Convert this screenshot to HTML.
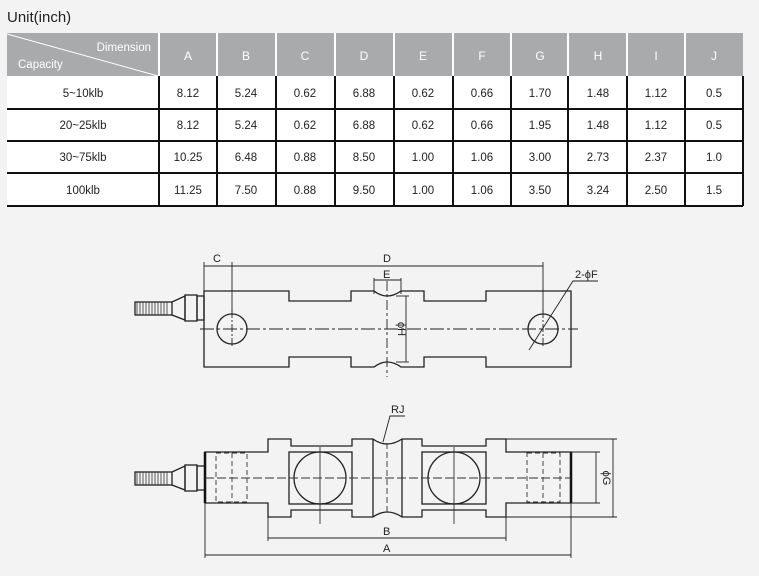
<!DOCTYPE html>
<html><head><style>
html,body{margin:0;padding:0;background:#f3f3f3;width:759px;height:576px;overflow:hidden}
svg{display:block}
text{font-family:"Liberation Sans",sans-serif}
</style></head><body>
<svg width="759" height="576" viewBox="0 0 759 576" xmlns="http://www.w3.org/2000/svg">
<text x="7" y="22" font-size="15" fill="#222">Unit(inch)</text>
<!-- table -->
<rect x="7" y="33" width="736" height="173" fill="#fff"/>
<rect x="7" y="33" width="736" height="43" fill="#a9aaac"/>
<g stroke="#fff" stroke-width="2">
<line x1="159" y1="33" x2="159" y2="76"/><line x1="217" y1="33" x2="217" y2="76"/><line x1="276" y1="33" x2="276" y2="76"/><line x1="335" y1="33" x2="335" y2="76"/><line x1="394" y1="33" x2="394" y2="76"/><line x1="453" y1="33" x2="453" y2="76"/><line x1="511" y1="33" x2="511" y2="76"/><line x1="568" y1="33" x2="568" y2="76"/><line x1="627" y1="33" x2="627" y2="76"/><line x1="685" y1="33" x2="685" y2="76"/>
</g>
<line x1="7" y1="34" x2="158" y2="76" stroke="#fff" stroke-width="1"/>
<text x="151" y="51" font-size="11.5" fill="#fff" text-anchor="end">Dimension</text>
<text x="18" y="68" font-size="11.5" fill="#fff">Capacity</text>
<g font-size="12" fill="#fff" text-anchor="middle">
<text x="188" y="60">A</text><text x="246" y="60">B</text><text x="305" y="60">C</text><text x="364" y="60">D</text><text x="423" y="60">E</text><text x="482" y="60">F</text><text x="540" y="60">G</text><text x="598" y="60">H</text><text x="656" y="60">I</text><text x="714" y="60">J</text>
</g>
<g stroke="#111" stroke-width="2">
<line x1="7" y1="109" x2="743" y2="109"/><line x1="7" y1="141" x2="743" y2="141"/><line x1="7" y1="173" x2="743" y2="173"/><line x1="7" y1="206" x2="743" y2="206"/>
<line x1="159" y1="76" x2="159" y2="206"/><line x1="217" y1="76" x2="217" y2="206"/><line x1="276" y1="76" x2="276" y2="206"/><line x1="335" y1="76" x2="335" y2="206"/><line x1="394" y1="76" x2="394" y2="206"/><line x1="453" y1="76" x2="453" y2="206"/><line x1="511" y1="76" x2="511" y2="206"/><line x1="568" y1="76" x2="568" y2="206"/><line x1="627" y1="76" x2="627" y2="206"/><line x1="685" y1="76" x2="685" y2="206"/><line x1="743" y1="76" x2="743" y2="206"/>
</g>
<g font-size="11.5" fill="#222" text-anchor="middle">
<text x="83" y="97">5~10klb</text><text x="188" y="97">8.12</text><text x="246" y="97">5.24</text><text x="305" y="97">0.62</text><text x="364" y="97">6.88</text><text x="423" y="97">0.62</text><text x="482" y="97">0.66</text><text x="540" y="97">1.70</text><text x="598" y="97">1.48</text><text x="656" y="97">1.12</text><text x="714" y="97">0.5</text>
<text x="83" y="129">20~25klb</text><text x="188" y="129">8.12</text><text x="246" y="129">5.24</text><text x="305" y="129">0.62</text><text x="364" y="129">6.88</text><text x="423" y="129">0.62</text><text x="482" y="129">0.66</text><text x="540" y="129">1.95</text><text x="598" y="129">1.48</text><text x="656" y="129">1.12</text><text x="714" y="129">0.5</text>
<text x="83" y="161">30~75klb</text><text x="188" y="161">10.25</text><text x="246" y="161">6.48</text><text x="305" y="161">0.88</text><text x="364" y="161">8.50</text><text x="423" y="161">1.00</text><text x="482" y="161">1.06</text><text x="540" y="161">3.00</text><text x="598" y="161">2.73</text><text x="656" y="161">2.37</text><text x="714" y="161">1.0</text>
<text x="83" y="194">100klb</text><text x="188" y="194">11.25</text><text x="246" y="194">7.50</text><text x="305" y="194">0.88</text><text x="364" y="194">9.50</text><text x="423" y="194">1.00</text><text x="482" y="194">1.06</text><text x="540" y="194">3.50</text><text x="598" y="194">3.24</text><text x="656" y="194">2.50</text><text x="714" y="194">1.5</text>
</g>

<!-- TOP VIEW -->
<g fill="none" stroke="#222" stroke-width="1.3">
<path d="M204 291 H289 V301 H351 V291 H374 Q387 301 401 291 H424 V301 H486 V291 H571 V367 H486 V357 H424 V367 H401 Q387 357 374 367 H351 V357 H289 V367 H204 Z"/>
<circle cx="232" cy="329" r="15"/><circle cx="543" cy="329" r="15"/>
<rect x="135" y="302" width="37" height="13"/>
<path d="M172 302 L185 296 V320 L172 315"/>
<rect x="185" y="295" width="12" height="26"/><rect x="197" y="296" width="7" height="24"/>
</g>
<g stroke="#333" stroke-width="0.8">
<line x1="137" y1="302" x2="137" y2="315"/><line x1="140" y1="302" x2="140" y2="315"/><line x1="143" y1="302" x2="143" y2="315"/><line x1="146" y1="302" x2="146" y2="315"/><line x1="149" y1="302" x2="149" y2="315"/><line x1="152" y1="302" x2="152" y2="315"/><line x1="155" y1="302" x2="155" y2="315"/><line x1="158" y1="302" x2="158" y2="315"/><line x1="161" y1="302" x2="161" y2="315"/><line x1="164" y1="302" x2="164" y2="315"/><line x1="167" y1="302" x2="167" y2="315"/>
</g>
<g stroke="#222" stroke-width="0.9" fill="none">
<line x1="200" y1="329" x2="578" y2="329" stroke-dasharray="14,3,3,3"/>
<line x1="387" y1="281" x2="387" y2="377" stroke-dasharray="10,3,3,3"/>
<line x1="232" y1="310" x2="232" y2="348" stroke-dasharray="8,2,2,2"/>
<line x1="543" y1="310" x2="543" y2="348" stroke-dasharray="8,2,2,2"/>
<line x1="204" y1="262" x2="204" y2="291"/><line x1="232" y1="262" x2="232" y2="312"/>
<line x1="543" y1="262" x2="543" y2="312"/>
<line x1="204" y1="266" x2="543" y2="266"/>
<line x1="374" y1="278" x2="374" y2="294"/><line x1="401" y1="278" x2="401" y2="294"/>
<line x1="374" y1="280" x2="401" y2="280"/>
<line x1="406" y1="296" x2="406" y2="362"/>
<line x1="396" y1="296" x2="409" y2="296"/><line x1="396" y1="362" x2="409" y2="362"/>
<path d="M529 350 L573 281 H598"/>
</g>
<g font-size="11" fill="#222">
<text x="213" y="262">C</text><text x="383" y="262">D</text><text x="383" y="278">E</text><text x="575" y="278">2-ϕF</text>
<text transform="translate(398,329) rotate(90)" text-anchor="middle">ϕH</text>
</g>

<!-- BOTTOM VIEW -->
<g fill="none" stroke="#222" stroke-width="1.3">
<path d="M205 452 H268 V439 H291 V446 H352 V439 H373 Q387 449 402 439 H422 V446 H486 V439 H506 V452 H571 V503 H506 V517 H486 V510 H422 V517 H402 Q387 507 373 517 H352 V510 H291 V517 H268 V503 H205 Z"/>
<line x1="373" y1="439" x2="373" y2="517"/><line x1="402" y1="439" x2="402" y2="517"/>
<rect x="289" y="452" width="63" height="52"/><rect x="422" y="452" width="64" height="52"/>
<circle cx="320" cy="478" r="26"/><circle cx="454" cy="478" r="26"/>
<rect x="135" y="472" width="37" height="13"/>
<path d="M172 472 L185 466 V490 L172 485"/>
<rect x="185" y="465" width="12" height="26"/><rect x="197" y="466" width="8" height="24"/>
</g>
<line x1="205" y1="452" x2="205" y2="503" stroke="#111" stroke-width="2.5"/>
<line x1="571" y1="452" x2="571" y2="503" stroke="#111" stroke-width="2.5"/>
<g stroke="#333" stroke-width="0.8">
<line x1="137" y1="472" x2="137" y2="485"/><line x1="140" y1="472" x2="140" y2="485"/><line x1="143" y1="472" x2="143" y2="485"/><line x1="146" y1="472" x2="146" y2="485"/><line x1="149" y1="472" x2="149" y2="485"/><line x1="152" y1="472" x2="152" y2="485"/><line x1="155" y1="472" x2="155" y2="485"/><line x1="158" y1="472" x2="158" y2="485"/><line x1="161" y1="472" x2="161" y2="485"/><line x1="164" y1="472" x2="164" y2="485"/><line x1="167" y1="472" x2="167" y2="485"/>
</g>
<g stroke="#333" stroke-width="0.9" fill="none" stroke-dasharray="5,3">
<rect x="216" y="453" width="31" height="49"/><line x1="232" y1="453" x2="232" y2="502"/>
<rect x="527" y="453" width="33" height="49"/><line x1="543" y1="453" x2="543" y2="502"/>
<line x1="205" y1="478" x2="571" y2="478" stroke-dasharray="9,3"/>
<line x1="387" y1="443" x2="387" y2="513" stroke-dasharray="6,3"/>
<line x1="320" y1="447" x2="320" y2="524" stroke-dasharray="none"/><line x1="454" y1="447" x2="454" y2="524" stroke-dasharray="none"/>
</g>
<g stroke="#222" stroke-width="0.9" fill="none">
<line x1="571" y1="452" x2="600" y2="452"/><line x1="571" y1="503" x2="600" y2="503"/>
<line x1="596" y1="452" x2="596" y2="503"/>
<line x1="506" y1="439" x2="617" y2="439"/><line x1="506" y1="517" x2="617" y2="517"/>
<line x1="613" y1="439" x2="613" y2="517"/>
<line x1="268" y1="517" x2="268" y2="541"/><line x1="506" y1="517" x2="506" y2="541"/>
<line x1="268" y1="538" x2="506" y2="538"/>
<line x1="205" y1="503" x2="205" y2="558"/><line x1="571" y1="503" x2="571" y2="558"/>
<line x1="205" y1="555" x2="571" y2="555"/>
<path d="M383 442 L390 416 H405"/>
</g>
<g font-size="11" fill="#222">
<text x="391" y="413">RJ</text>
<text x="383" y="535">B</text><text x="383" y="552">A</text>
<text transform="translate(603,478) rotate(90)" text-anchor="middle">ϕG</text>
</g>
</svg>
</body></html>
